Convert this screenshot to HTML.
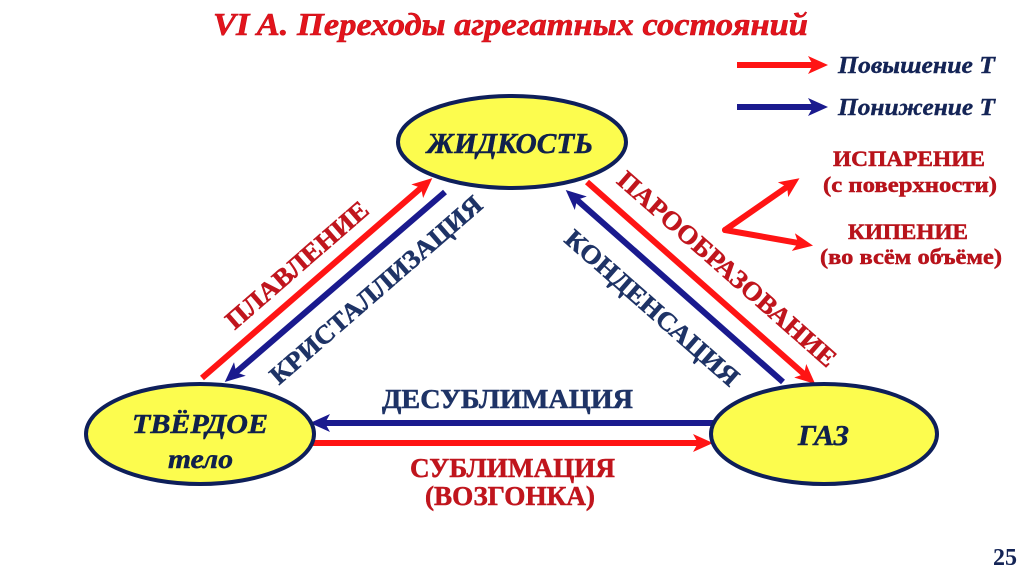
<!DOCTYPE html>
<html><head><meta charset="utf-8"><style>
html,body{margin:0;padding:0;background:#fff;}
svg{display:block;}
text{font-family:"Liberation Serif","DejaVu Serif",serif;font-weight:bold;}
</style></head><body>
<svg width="1024" height="574" viewBox="0 0 1024 574" xmlns="http://www.w3.org/2000/svg">
<defs>
<marker id="hr" markerUnits="userSpaceOnUse" markerWidth="20" markerHeight="18" refX="7" refY="9" orient="auto"><path d="M0,0 L20,9 L0,18 L5,9 z" fill="#ff1414"/></marker>
<marker id="hb" markerUnits="userSpaceOnUse" markerWidth="20" markerHeight="18" refX="7" refY="9" orient="auto"><path d="M0,0 L20,9 L0,18 L5,9 z" fill="#1a1a8e"/></marker>
</defs>
<rect width="1024" height="574" fill="#fff"/>

<!-- Title -->
<text x="213" y="35" font-size="32" font-style="italic" fill="#e3141c" stroke="#c8101a" stroke-width="0.6" textLength="595" lengthAdjust="spacingAndGlyphs">VI A. Переходы агрегатных состояний</text>

<!-- Legend -->
<line x1="737" y1="65" x2="815" y2="65" stroke="#ff1414" stroke-width="6" marker-end="url(#hr)"/>
<line x1="737" y1="107" x2="815" y2="107" stroke="#1a1a8e" stroke-width="6" marker-end="url(#hb)"/>
<text x="838" y="73" font-size="24" font-style="italic" fill="#142456" stroke="#142456" stroke-width="0.4" textLength="157" lengthAdjust="spacingAndGlyphs">Повышение Т</text>
<text x="838" y="115" font-size="24" font-style="italic" fill="#142456" stroke="#142456" stroke-width="0.4" textLength="157" lengthAdjust="spacingAndGlyphs">Понижение Т</text>

<!-- V arrows -->
<line x1="725" y1="230" x2="788.8" y2="185.7" stroke="#ff1414" stroke-width="6" stroke-linecap="round" marker-end="url(#hr)"/>
<line x1="725" y1="230" x2="800.2" y2="243.3" stroke="#ff1414" stroke-width="6" stroke-linecap="round" marker-end="url(#hr)"/>

<text x="833" y="166" font-size="22" fill="#b8131b" stroke="#b8131b" stroke-width="0.5" textLength="152" lengthAdjust="spacingAndGlyphs">ИСПАРЕНИЕ</text>
<text x="823" y="192" font-size="22" fill="#b8131b" stroke="#b8131b" stroke-width="0.5" textLength="174" lengthAdjust="spacingAndGlyphs">(с поверхности)</text>
<text x="848" y="239" font-size="22" fill="#b8131b" stroke="#b8131b" stroke-width="0.5" textLength="120" lengthAdjust="spacingAndGlyphs">КИПЕНИЕ</text>
<text x="820" y="264" font-size="22" fill="#b8131b" stroke="#b8131b" stroke-width="0.5" textLength="182" lengthAdjust="spacingAndGlyphs">(во всём объёме)</text>

<!-- Left arrows -->
<line x1="202" y1="378" x2="422.5" y2="186.6" stroke="#ff1414" stroke-width="6" marker-end="url(#hr)"/>
<line x1="445" y1="192" x2="234.6" y2="373.5" stroke="#1a1a8e" stroke-width="6" marker-end="url(#hb)"/>
<!-- Right arrows -->
<line x1="587" y1="182" x2="805.5" y2="375.4" stroke="#ff1414" stroke-width="6" marker-end="url(#hr)"/>
<line x1="783" y1="382" x2="575.5" y2="198.6" stroke="#1a1a8e" stroke-width="6" marker-end="url(#hb)"/>
<!-- Bottom arrows -->
<line x1="713" y1="423" x2="323" y2="423" stroke="#1a1a8e" stroke-width="6" marker-end="url(#hb)"/>
<line x1="313" y1="443" x2="700" y2="443" stroke="#ff1414" stroke-width="6" marker-end="url(#hr)"/>

<!-- Diagonal labels -->
<text x="297" y="265" font-size="26" fill="#c0151d" stroke="#c0151d" stroke-width="0.5" text-anchor="middle" dominant-baseline="central" transform="rotate(-41 297 265)" textLength="180" lengthAdjust="spacingAndGlyphs">ПЛАВЛЕНИЕ</text>
<text x="376" y="290" font-size="26" fill="#1e3366" stroke="#1e3366" stroke-width="0.5" text-anchor="middle" dominant-baseline="central" transform="rotate(-41 376 290)" textLength="272" lengthAdjust="spacingAndGlyphs">КРИСТАЛЛИЗАЦИЯ</text>
<text x="727" y="269" font-size="26" fill="#c0151d" stroke="#c0151d" stroke-width="0.5" text-anchor="middle" dominant-baseline="central" transform="rotate(41.3 727 269)" textLength="282" lengthAdjust="spacingAndGlyphs">ПАРООБРАЗОВАНИЕ</text>
<text x="652" y="308" font-size="26" fill="#1e3366" stroke="#1e3366" stroke-width="0.5" text-anchor="middle" dominant-baseline="central" transform="rotate(41.3 652 308)" textLength="222" lengthAdjust="spacingAndGlyphs">КОНДЕНСАЦИЯ</text>

<!-- Bottom labels -->
<text x="382" y="408" font-size="27" fill="#1e3366" stroke="#1e3366" stroke-width="0.5" textLength="251" lengthAdjust="spacingAndGlyphs">ДЕСУБЛИМАЦИЯ</text>
<text x="410" y="477" font-size="27" fill="#c0151d" stroke="#c0151d" stroke-width="0.5" textLength="205" lengthAdjust="spacingAndGlyphs">СУБЛИМАЦИЯ</text>
<text x="425" y="505" font-size="27" fill="#c0151d" stroke="#c0151d" stroke-width="0.5" textLength="170" lengthAdjust="spacingAndGlyphs">(ВОЗГОНКА)</text>

<!-- Ellipses -->
<ellipse cx="512" cy="142" rx="114" ry="46" fill="#fcfc4e" stroke="#0e1f5a" stroke-width="4"/>
<ellipse cx="200" cy="434" rx="114" ry="50" fill="#fcfc4e" stroke="#0e1f5a" stroke-width="4"/>
<ellipse cx="824" cy="434" rx="113" ry="50" fill="#fcfc4e" stroke="#0e1f5a" stroke-width="4"/>

<text x="427" y="153" font-size="29" font-style="italic" fill="#10204c" stroke="#10204c" stroke-width="0.5" textLength="166" lengthAdjust="spacingAndGlyphs">ЖИДКОСТЬ</text>
<text x="132" y="433" font-size="27" fill="#10204c" stroke="#10204c" stroke-width="0.5" font-style="italic" textLength="136" lengthAdjust="spacingAndGlyphs">ТВЁРДОЕ</text>
<text x="168" y="468" font-size="27" fill="#10204c" stroke="#10204c" stroke-width="0.5" font-style="italic" textLength="65" lengthAdjust="spacingAndGlyphs">тело</text>
<text x="798" y="445" font-size="29" fill="#10204c" stroke="#10204c" stroke-width="0.5" font-style="italic" textLength="51" lengthAdjust="spacingAndGlyphs">ГАЗ</text>

<!-- Page number -->
<text x="993" y="565" font-size="24" fill="#142456" textLength="24" lengthAdjust="spacingAndGlyphs">25</text>
</svg>
</body></html>
